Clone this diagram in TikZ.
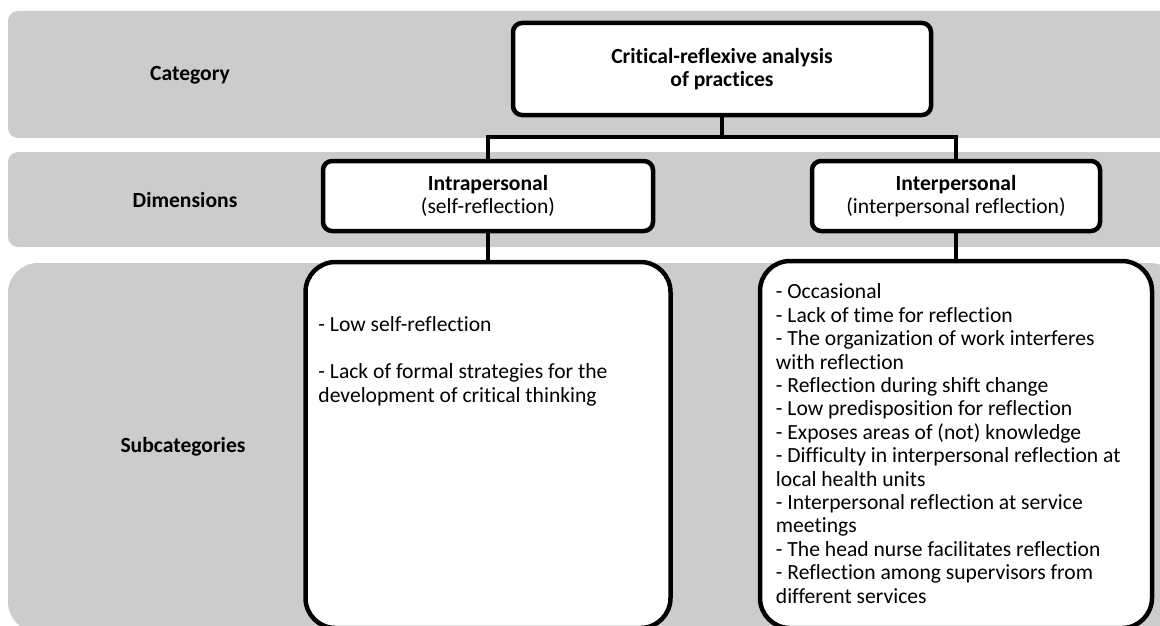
\documentclass[tikz,border=0pt]{standalone}
\usepackage{fontspec}
\setmainfont{Carlito}[Ligatures={NoCommon}]
\usepackage{tikz}
\definecolor{bandgray}{RGB}{204,204,204}
\newcommand{\diagfont}{\fontsize{21.6}{23.4}\selectfont}

\begin{document}
\begin{tikzpicture}[x=1pt, y=-1pt,
    every node/.style={font=\diagfont},
    band/.style={fill=bandgray, rounded corners=10pt},
    lbl/.style={font=\diagfont\bfseries},
    box/.style={draw, line width=4.5pt, fill=white, rounded corners=9pt, align=center, inner sep=0pt},
    subbox/.style={draw, line width=4.5pt, fill=white, rounded corners=30pt, inner sep=0pt},
    items/.style={align=left, inner sep=0pt, anchor=north west},
    conn/.style={line width=4pt}]
    \useasboundingbox (0,0) rectangle (1160,626);

    % rows
    \fill[band] (8,11) rectangle (1180,138);
    \fill[band] (8,152) rectangle (1180,247);
    \fill[band, rounded corners=30pt] (8,263) rectangle (1180,632);

    \node[lbl] (category) at (190,75) {Category};
    \node[lbl] (dimensions) at (185,200) {Dimensions};
    \node[lbl] (subcategories) at (183,447) {Subcategories};

    % boxes
    \node[box, minimum width=418, minimum height=92] (critical) at (722,69)
        {\textbf{Critical-reflexive analysis}\\\textbf{of practices}};
    \node[box, minimum width=330, minimum height=70] (intra) at (488,196)
        {\textbf{Intrapersonal}\\(self-reflection)};
    \node[box, minimum width=288, minimum height=70] (inter) at (956,196)
        {\textbf{Interpersonal}\\(interpersonal reflection)};
    \node[subbox, minimum width=365, minimum height=366] (intrasub) at (488,445) {};
    \node[subbox, minimum width=392, minimum height=367] (intersub) at (956,444.5) {};

    \node[items] (intratxt) at ([shift={(15,57)}]intrasub.north west)
        {- Low self-reflection\\[23.4pt]
         - Lack of formal strategies for the\\
         development of critical thinking};
    \node[items] (intertxt) at ([shift={(18,25)}]intersub.north west)
        {- Occasional\\
         - Lack of time for reflection\\
         - The organization of work interferes\\
         with reflection\\
         - Reflection during shift change\\
         - Low predisposition for reflection\\
         - Exposes areas of (not) knowledge\\
         - Difficulty in interpersonal reflection at\\
         local health units\\
         - Interpersonal reflection at service\\
         meetings\\
         - The head nurse facilitates reflection\\
         - Reflection among supervisors from\\
         different services};

    % connectors
    \coordinate (split) at (722,137);
    \draw[conn] (critical.south) -- (split);
    \draw[conn] (intra.north) |- (split) -| (inter.north);
    \draw[conn] (intra.south) -- (intrasub.north);
    \draw[conn] (inter.south) -- (intersub.north);
\end{tikzpicture}
\end{document}
